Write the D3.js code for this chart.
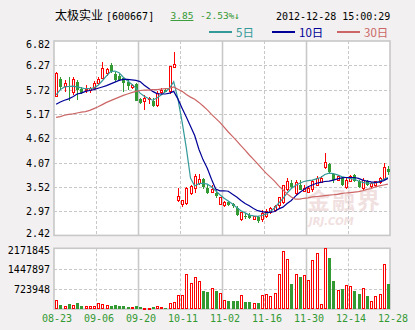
<!DOCTYPE html>
<html>
<head>
<meta charset="utf-8">
<script src="https://cdn.jsdelivr.net/npm/d3@7"></script>
<style>
  html, body { margin: 0; padding: 0; background: #f2f0f0; }
  svg { display: block; }
</style>
</head>
<body>
<svg id="chart" width="415" height="330"></svg>
<script>
// Daily bars of 太极实业 [600667], 2012-08-23 .. 2012-12-28
const open = [5.56,5.95,5.80,5.81,5.65,5.89,5.73,5.70,5.70,5.75,
  5.86,5.98,6.08,6.28,6.07,6.03,5.99,5.90,5.77,5.85,
  5.50,5.45,5.49,5.47,5.35,5.65,5.70,5.67,6.22,3.22,
  3.11,3.15,3.37,3.49,3.60,3.69,3.49,3.39,3.39,3.13,
  3.10,3.17,3.13,3.05,2.78,2.87,2.88,2.79,2.84,2.79,
  2.85,2.93,2.98,3.09,3.16,3.45,3.61,3.36,3.56,3.41,
  3.40,3.45,3.56,3.61,3.96,4.04,3.81,3.67,3.71,3.51,
  3.64,3.78,3.64,3.49,3.64,3.52,3.55,3.61,3.69,3.92];
const high = [6.12,6.01,5.94,6.01,6.01,5.94,5.78,5.82,5.78,5.91,
  6.01,6.35,6.22,6.33,6.11,6.07,6.01,5.94,5.85,5.86,
  5.52,5.60,5.55,5.52,5.68,5.75,5.74,6.25,6.58,3.49,
  3.23,3.51,3.57,3.80,3.80,3.72,3.55,3.55,3.45,3.30,
  3.20,3.20,3.16,3.09,2.96,2.92,2.92,2.87,2.87,3.00,
  3.02,3.06,3.10,3.30,3.56,3.71,3.67,3.67,3.67,3.55,
  3.52,3.67,3.76,3.76,4.29,4.05,3.84,3.79,3.75,3.72,
  3.79,3.82,3.67,3.71,3.67,3.62,3.66,3.74,4.07,4.00];
const low = [5.55,5.71,5.67,5.47,5.60,5.48,5.63,5.64,5.64,5.73,
  5.83,5.96,6.03,6.10,5.90,5.92,5.67,5.72,5.74,5.46,
  5.40,5.26,5.40,5.32,5.33,5.60,5.66,5.63,6.20,3.18,
  3.06,3.10,3.33,3.39,3.57,3.48,3.36,3.38,3.27,3.12,
  3.07,3.08,3.05,2.86,2.74,2.80,2.78,2.76,2.71,2.73,
  2.82,2.91,2.95,3.04,3.14,3.42,3.49,3.34,3.44,3.40,
  3.38,3.41,3.54,3.60,3.92,3.82,3.60,3.64,3.53,3.47,
  3.62,3.62,3.49,3.45,3.53,3.50,3.52,3.59,3.67,3.79];
const close = [6.09,5.79,5.86,5.77,5.94,5.70,5.65,5.73,5.75,5.86,
  5.95,6.20,6.18,6.15,5.94,5.94,5.88,5.80,5.82,5.47,
  5.41,5.52,5.51,5.35,5.64,5.71,5.67,6.25,6.28,3.30,
  3.21,3.49,3.52,3.75,3.69,3.52,3.39,3.45,3.31,3.27,
  3.17,3.11,3.08,2.88,2.93,2.86,2.81,2.84,2.75,2.91,
  2.96,3.03,3.08,3.27,3.54,3.63,3.51,3.61,3.45,3.49,
  3.49,3.64,3.71,3.71,4.07,3.86,3.67,3.75,3.56,3.67,
  3.75,3.66,3.52,3.67,3.56,3.60,3.64,3.71,3.95,3.85];
const volume = [310000,135000,125000,165000,160000,205000,125000,92000,90000,92000,
  200000,195000,128000,98000,132000,100000,98000,66000,62000,90000,
  56000,52000,52000,56000,90000,88000,52000,220000,260000,515000,
  510000,1270000,945000,1155000,990000,635000,605000,735000,635000,590000,
  335000,275000,272000,275000,515000,240000,262000,228000,200000,512000,
  550000,480000,585000,1270000,2070000,1780000,885000,1235000,1140000,1205000,
  1030000,1750000,1990000,190000,2171845,1835000,995000,670000,712000,850000,
  815000,640000,520000,735000,455000,275000,455000,520000,1600000,885000];

// Moving averages (5, 10 and 30 days)
const ma5 = [5.60,5.72,5.78,5.79,5.80,5.78,5.76,5.74,5.74,5.76,
  5.82,5.92,6.03,6.13,6.14,6.10,6.00,5.92,5.84,5.76,
  5.64,5.57,5.52,5.48,5.53,5.60,5.67,5.75,5.90,5.51,
  4.99,4.40,3.72,3.54,3.59,3.60,3.58,3.52,3.43,3.34,
  3.26,3.20,3.13,3.05,2.98,2.93,2.88,2.86,2.85,2.87,
  2.90,2.96,3.04,3.15,3.25,3.38,3.48,3.55,3.60,3.64,
  3.66,3.67,3.70,3.73,3.80,3.83,3.82,3.79,3.75,3.73,
  3.71,3.69,3.65,3.62,3.60,3.60,3.61,3.64,3.69,3.73];
const ma10 = [5.39,5.44,5.48,5.51,5.56,5.62,5.64,5.68,5.70,5.72,
  5.75,5.78,5.81,5.85,5.89,5.93,5.95,5.95,5.94,5.93,
  5.90,5.82,5.75,5.68,5.63,5.62,5.62,5.64,5.68,5.51,
  5.30,5.10,4.89,4.68,4.37,4.13,3.94,3.69,3.47,3.43,
  3.43,3.42,3.35,3.29,3.21,3.14,3.09,3.03,2.98,2.96,
  2.94,2.94,2.96,3.02,3.06,3.14,3.21,3.31,3.39,3.46,
  3.52,3.56,3.60,3.62,3.64,3.65,3.67,3.70,3.72,3.73,
  3.73,3.73,3.71,3.67,3.65,3.63,3.62,3.63,3.66,3.71];
const ma30 = [5.09,5.11,5.14,5.16,5.17,5.19,5.21,5.22,5.25,5.29,
  5.33,5.38,5.43,5.47,5.51,5.55,5.59,5.62,5.65,5.68,
  5.70,5.71,5.71,5.72,5.72,5.73,5.74,5.75,5.78,5.73,
  5.68,5.61,5.55,5.50,5.43,5.35,5.26,5.16,5.07,4.98,
  4.87,4.76,4.66,4.56,4.45,4.35,4.24,4.14,4.04,3.93,
  3.83,3.74,3.65,3.54,3.45,3.36,3.29,3.24,3.24,3.26,
  3.27,3.29,3.30,3.31,3.32,3.33,3.34,3.35,3.37,3.38,
  3.39,3.40,3.41,3.43,3.46,3.48,3.52,3.54,3.56,3.58];

// Axis labels
const priceTicks = [6.82, 6.27, 5.72, 5.17, 4.62, 4.07, 3.52, 2.97, 2.42];
const volumeTicks = [2171845, 1447897, 723948];
const dateTicks = ["08-23","09-06","09-20","10-11","11-02","11-16","11-30","12-14","12-28"];
const dateTickIndex = [0, 10, 20, 30, 40, 50, 60, 70, 80];

// Header and legend texts
const stockName = "太极实业";
const stockCode = "[600667]";
const lastPrice = "3.85";
const changePct = "-2.53%↓";
const stamp = "2012-12-28 15:00:29";
const legendItems = [
  { label: "5日", color: "#339999", values: ma5 },
  { label: "10日", color: "#000099", values: ma10 },
  { label: "30日", color: "#cc6666", values: ma30 }
];

const UP = "#ff0000", DOWN = "#339933", GRID = "#c8c8c8";
const MONO = "'DejaVu Sans Mono', 'Liberation Mono', monospace";
const CJK = "'Noto Sans CJK SC', sans-serif";

const svg = d3.select("#chart");
const left = 54, right = 390;
const priceTop = 41, priceBottom = 235.4;
const volTop = 248.3, volBottom = 309;

const x = d3.scaleLinear().domain([0, open.length]).range([left, right]);
const y = d3.scaleLinear().domain(d3.extent(priceTicks)).range([priceBottom, priceTop]);
const yv = d3.scaleLinear().domain([0, d3.max(volumeTicks)]).range([volBottom, volTop]);
const cx = i => Math.round(x(i + 0.5));

svg.append("rect").attr("width", 415).attr("height", 330).attr("fill", "#f2f0f0");

// Panels
[[priceTop, priceBottom], [volTop, volBottom]].forEach(([t, b]) => {
  svg.append("rect")
    .attr("x", left).attr("y", t).attr("width", right - left).attr("height", b - t)
    .attr("fill", "#ffffff");
});

// Watermark
const wm = svg.append("g").attr("fill", "#f1e0e0");
wm.append("text").attr("x", 307).attr("y", 209)
  .attr("font-family", CJK).attr("font-weight", "bold").attr("font-size", 23)
  .attr("letter-spacing", 2).text("金融界");
wm.append("text").attr("x", 309).attr("y", 225)
  .attr("font-family", "'DejaVu Sans', sans-serif").attr("font-weight", "bold")
  .attr("font-style", "italic").attr("font-size", 10).text("JRJ.COM");

// Grid lines
function hGrid(yPos) {
  svg.append("line").attr("x1", left).attr("x2", right)
    .attr("y1", Math.round(yPos) + 0.5).attr("y2", Math.round(yPos) + 0.5)
    .attr("stroke", GRID).attr("stroke-dasharray", "3,2");
}
priceTicks.slice(1, -1).forEach(p => hGrid(y(p)));
volumeTicks.slice(1).forEach(v => hGrid(yv(v)));

dateTickIndex.slice(1, -1).forEach((idx, k) => {
  const gx = Math.round(x(idx)) + 0.5;
  [[priceTop, priceBottom], [volTop, volBottom]].forEach(([t, b]) => {
    const ln = svg.append("line").attr("x1", gx).attr("x2", gx)
      .attr("y1", t).attr("y2", b).attr("stroke", GRID);
    if (k % 2 === 0) ln.attr("stroke-dasharray", "3,2");
    else ln.attr("stroke-width", 1.6);
  });
});

// Panel borders
[[priceTop, priceBottom], [volTop, volBottom]].forEach(([t, b]) => {
  svg.append("rect")
    .attr("x", left).attr("y", t).attr("width", right - left).attr("height", b - t)
    .attr("fill", "none").attr("stroke", GRID).attr("stroke-width", 1.6);
});

// Candlesticks
const candles = svg.append("g").attr("shape-rendering", "crispEdges");
open.forEach((o, i) => {
  const c = close[i];
  const up = c >= o;
  const col = up ? UP : DOWN;
  const xc = cx(i);
  candles.append("line")
    .attr("x1", xc + 0.5).attr("x2", xc + 0.5)
    .attr("y1", y(high[i])).attr("y2", y(low[i]))
    .attr("stroke", col);
  const top = y(Math.max(o, c)), bot = y(Math.min(o, c));
  if (up) {
    candles.append("rect")
      .attr("x", xc - 0.5).attr("y", top)
      .attr("width", 2).attr("height", Math.max(1, bot - top))
      .attr("fill", "#ffffff").attr("stroke", col);
  } else {
    candles.append("rect")
      .attr("x", xc - 1).attr("y", top)
      .attr("width", 3).attr("height", Math.max(1, bot - top))
      .attr("fill", col);
  }
});

// Moving average lines
legendItems.forEach(item => {
  svg.append("path")
    .datum(item.values)
    .attr("fill", "none")
    .attr("stroke", item.color)
    .attr("stroke-width", 1.2)
    .attr("d", d3.line().x((d, i) => x(i + 0.5)).y(d => y(d)));
});

// Volume bars
const vols = svg.append("g").attr("shape-rendering", "crispEdges");
volume.forEach((v, i) => {
  const up = close[i] >= open[i];
  const xc = cx(i);
  const top = yv(v);
  if (up) {
    vols.append("rect")
      .attr("x", xc - 0.5).attr("y", top + 0.5)
      .attr("width", 2).attr("height", Math.max(1, volBottom - top - 1))
      .attr("fill", "#ffffff").attr("stroke", UP);
  } else {
    vols.append("rect")
      .attr("x", xc - 1).attr("y", top)
      .attr("width", 3).attr("height", volBottom - top - 0.5)
      .attr("fill", DOWN);
  }
});

// Axes
const yAxis = svg.append("g").attr("transform", `translate(${left},0)`)
  .call(d3.axisLeft(y).tickValues(priceTicks).tickSize(0).tickPadding(4)
    .tickFormat(d3.format(".2f")));
yAxis.select(".domain").remove();
yAxis.selectAll("text")
  .attr("font-family", MONO).attr("font-size", 10).attr("fill", "#000")
  .attr("dy", "0.35em")
  .attr("y", d => d === priceTicks[0] ? 3 : (d === priceTicks[priceTicks.length - 1] ? -2 : 0));

const vAxis = svg.append("g").attr("transform", `translate(${left},0)`)
  .call(d3.axisLeft(yv).tickValues(volumeTicks).tickSize(0).tickPadding(4)
    .tickFormat(d3.format("d")));
vAxis.select(".domain").remove();
vAxis.selectAll("text")
  .attr("font-family", MONO).attr("font-size", 10).attr("fill", "#000")
  .attr("dy", "0.35em")
  .attr("y", d => d === volumeTicks[0] ? 2 : 0);

const xAxis = svg.append("g").attr("transform", `translate(0,${volBottom})`)
  .call(d3.axisBottom(x).tickValues(dateTickIndex).tickSize(0)
    .tickFormat((d, i) => dateTicks[i]));
xAxis.select(".domain").remove();
xAxis.selectAll("text")
  .attr("font-family", MONO).attr("font-size", 10).attr("fill", DOWN)
  .attr("y", 9).attr("dy", "0.35em").attr("dx", 2.5);

// Header
const header = svg.append("g");
header.append("text").attr("x", 55).attr("y", 20)
  .attr("font-family", CJK).attr("font-size", 12).attr("fill", "#000")
  .text(stockName);
header.append("text").attr("x", 106).attr("y", 20)
  .attr("font-family", MONO).attr("font-size", 10).attr("fill", "#000")
  .text(stockCode);
header.append("text").attr("x", 170.5).attr("y", 19)
  .attr("font-family", MONO).attr("font-size", 9.5).attr("fill", DOWN)
  .attr("text-decoration", "underline").text(lastPrice);
header.append("text").attr("x", 200).attr("y", 19)
  .attr("font-family", MONO).attr("font-size", 9.5).attr("fill", DOWN)
  .text(changePct);
header.append("text").attr("x", 276).attr("y", 19.5)
  .attr("font-family", MONO).attr("font-size", 10).attr("fill", "#000")
  .text(stamp);

// Legend
const legendX = [209, 272, 337];
legendItems.forEach((item, k) => {
  const lx = legendX[k];
  header.append("line").attr("x1", lx).attr("x2", lx + 23)
    .attr("y1", 32).attr("y2", 32)
    .attr("stroke", item.color).attr("stroke-width", 2);
  header.append("text").attr("x", lx + 27).attr("y", 36.5)
    .attr("font-family", CJK).attr("font-size", 11.5).attr("fill", item.color)
    .text(item.label);
});
</script>
</body>
</html>
